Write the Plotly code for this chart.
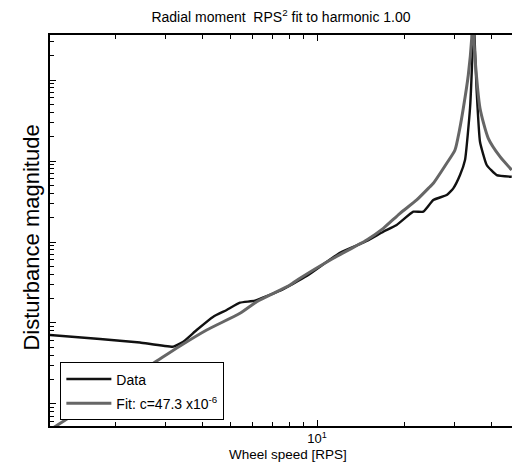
import plotly.graph_objects as go

# Wheel speed [RPS] and disturbance magnitude
data_rps = [1.191, 1.775, 2.440, 3.182, 3.446, 3.834, 4.378, 4.869, 5.414, 6.103,
            7.447, 9.213, 12.01, 14.86, 16.96, 18.87, 21.54, 23.32, 25.26, 28.11,
            29.62, 31.25, 32.52, 33.84, 34.58, 34.80, 35.69, 36.64, 38.65, 41.86, 47.18]
data_mag = [7.11e-4, 6.34e-4, 5.74e-4, 5.10e-4, 5.87e-4, 8.20e-4, 1.197e-3, 1.446e-3,
            1.782e-3, 1.885e-3, 2.506e-3, 3.80e-3, 7.38e-3, 1.028e-2, 1.340e-2, 1.622e-2,
            2.366e-2, 2.366e-2, 3.304e-2, 3.80e-2, 4.60e-2, 6.71e-2, 0.1028, 0.448, 2.70,
            6.3, 0.718, 0.173, 8.93e-2, 6.71e-2, 6.40e-2]

fit_rps = [1.191, 2.714, 3.357, 4.153, 5.414, 6.185, 8.066, 8.733, 11.39, 14.86,
           16.96, 19.38, 22.13, 24.60, 25.26, 28.11, 30.02, 31.12, 32.08, 33.38,
           34.30, 34.51, 35.21, 36.64, 39.14, 42.98, 47.18]
fit_mag = [4.78e-5, 3.18e-4, 5.20e-4, 8.20e-4, 1.318e-3, 1.832e-3, 2.944e-3, 3.565e-3,
           6.30e-3, 1.059e-2, 1.476e-2, 2.259e-2, 3.304e-2, 4.82e-2, 5.31e-2, 9.38e-2,
           0.1368, 0.2415, 0.448, 1.153, 3.27, 6.3, 1.871, 0.448, 0.1905, 0.1130, 0.0774]

x_major = [10]
x_major_text = ["10<sup>1</sup>"]
x_minor = [2, 3, 4, 5, 6, 7, 8, 9, 20, 30, 40]

y_major = [1e-4, 1e-3, 1e-2, 1e-1, 1]
y_minor = [m * d for d in [1e-5, 1e-4, 1e-3, 1e-2, 1e-1, 1] for m in range(2, 10)]

FONT = "Liberation Sans, Arial, Helvetica, sans-serif"

fig = go.Figure()
fig.add_trace(go.Scatter(x=data_rps, y=data_mag, mode="lines", name="Data",
                         legendgroup="a",
                         line=dict(color="#111111", width=2.4, shape="spline",
                                   smoothing=0.4)))
fig.add_trace(go.Scatter(x=fit_rps, y=fit_mag, mode="lines",
                         name="Fit: c=47.3 x10<sup>-6</sup>", legendgroup="b",
                         line=dict(color="#666666", width=3, shape="spline",
                                   smoothing=0.6)))

fig.update_layout(
    width=512, height=465,
    margin=dict(l=50, r=0, t=35, b=39),
    paper_bgcolor="white", plot_bgcolor="white",
    font=dict(family=FONT, color="black", size=13),
    title=dict(text="Radial moment  RPS<sup>2</sup> fit to harmonic 1.00",
               font=dict(size=14, family=FONT, color="black"),
               x=0.5, xref="paper", y=1 - 17 / 465, yref="container",
               xanchor="center", yanchor="middle"),
    showlegend=True,
    legend=dict(x=0.022, y=0.163, xanchor="left", yanchor="top",
                bgcolor="white", bordercolor="black", borderwidth=1.2,
                font=dict(size=14, family=FONT, color="black"),
                traceorder="grouped", tracegroupgap=3,
                itemwidth=45),
    xaxis=dict(type="log", range=[0.0761, 1.6747],
               showgrid=False, zeroline=False,
               showline=True, linecolor="black", linewidth=1.5, mirror="ticks",
               ticks="inside", ticklen=6, tickwidth=1, tickcolor="black",
               tickvals=x_major, ticktext=x_major_text,
               tickfont=dict(size=13, family=FONT, color="black"),
               minor=dict(tickvals=x_minor, ticks="inside", ticklen=4,
                          tickwidth=1, tickcolor="black", showgrid=False)),
    yaxis=dict(type="log", range=[-4.272, 0.556],
               showgrid=False, zeroline=False,
               showline=True, linecolor="black", linewidth=1.5, mirror=False,
               ticks="inside", ticklen=6, tickwidth=1, tickcolor="black",
               tickvals=y_major, showticklabels=False,
               minor=dict(tickvals=y_minor, ticks="inside", ticklen=4,
                          tickwidth=1, tickcolor="black", showgrid=False)),
    annotations=[
        dict(text="Disturbance magnitude", textangle=-90,
             xref="paper", yref="paper", x=-0.041, y=0.482,
             xanchor="center", yanchor="middle", showarrow=False,
             font=dict(size=22, family=FONT, color="black")),
        dict(text="Wheel speed [RPS]",
             xref="paper", yref="paper", x=0.515, y=-0.074,
             xanchor="center", yanchor="middle", showarrow=False,
             font=dict(size=13.5, family=FONT, color="black")),
    ],
)

fig.write_html("out.html")
